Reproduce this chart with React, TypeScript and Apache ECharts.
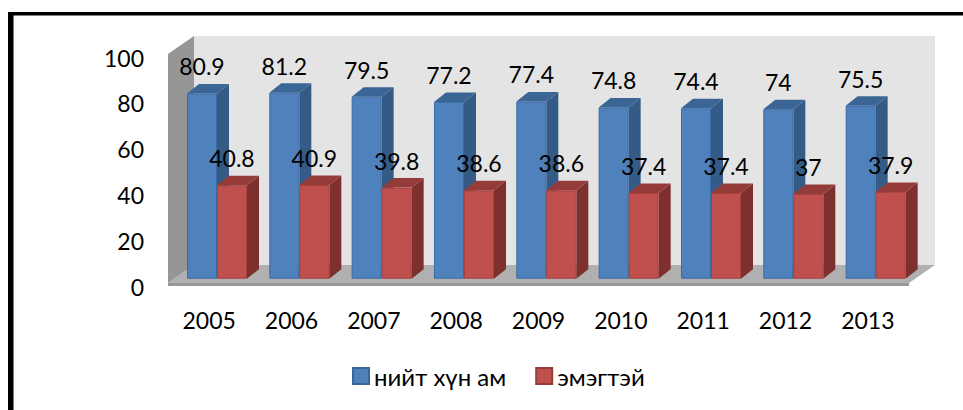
import React, { useEffect, useRef } from "react";
import * as echarts from "echarts";

const years = ["2005", "2006", "2007", "2008", "2009", "2010", "2011", "2012", "2013"];
const totalPop = [80.9, 81.2, 79.5, 77.2, 77.4, 74.8, 74.4, 74, 75.5];
const female = [40.8, 40.9, 39.8, 38.6, 38.6, 37.4, 37.4, 37, 37.9];
const totalName = "нийт хүн ам";
const femaleName = "эмэгтэй";
const yTicks = [0, 20, 40, 60, 80, 100];

const FONT = "Lato, Carlito, 'Noto Sans', sans-serif";
const W = 963;
const H = 410;

const bar3D = (front: string, top: string, side: string, edge: string, slot: number) =>
  (params: any, api: any) => {
    const i = api.value(0);
    const v = api.value(1);
    const band = api.size([1, 0])[0];
    const w = band * 0.3645;
    const c = api.coord([i, v]);
    const base = api.coord([i, 0]);
    const dx = 12;
    const dy = 9.5;
    const x = c[0] + band * 0.095 + (slot - 1) * w;
    const yTop = c[1] - 4.3;
    const yBase = base[1] - 4.3;
    return {
      type: "group",
      children: [
        {
          type: "polygon",
          shape: { points: [[x + w, yTop], [x + w + dx, yTop - dy], [x + w + dx, yBase - dy], [x + w, yBase]] },
          style: { fill: side },
        },
        {
          type: "polygon",
          shape: { points: [[x, yTop], [x + dx, yTop - dy], [x + w + dx, yTop - dy], [x + w, yTop]] },
          style: { fill: top },
        },
        {
          type: "rect",
          shape: { x: x + 0.5, y: yTop + 0.5, width: w - 1, height: yBase - yTop - 1 },
          style: { fill: front, stroke: edge, lineWidth: 1 },
        },
        {
          type: "text",
          z2: 100,
          style: {
            text: String(v),
            x: x + w / 2,
            y: yTop - 27,
            align: "center",
            verticalAlign: "middle",
            font: `23px ${FONT}`,
            fill: "#000",
          },
        },
      ],
    };
  };

const walls = (params: any) => {
  const g = params.coordSys;
  const dx = 26;
  const dy = 18;
  const l = g.x;
  const r = g.x + g.width;
  const t = g.y;
  const b = g.y + g.height;
  return {
    type: "group",
    children: [
      {
        type: "polygon",
        shape: { points: [[l + dx, t - dy], [r + dx, t - dy], [r + dx, b - dy], [l + dx, b - dy]] },
        style: { fill: "#e4e4e4" },
      },
      {
        type: "polygon",
        shape: { points: [[l, b], [l + dx, b - dy], [r + dx, b - dy], [r, b]] },
        style: { fill: "#b0b0b0" },
      },
      {
        type: "polygon",
        shape: { points: [[l, t], [l + dx, t - dy], [l + dx, b - dy], [l, b]] },
        style: { fill: "#969696" },
      },
      {
        type: "rect",
        shape: { x: l, y: b, width: r - l, height: 3 },
        style: { fill: "#989898" },
      },
    ],
  };
};

export default function App() {
  const ref = useRef<HTMLDivElement>(null);
  useEffect(() => {
    document.body.style.margin = "0";
    const chart = echarts.init(ref.current!, null, { renderer: "svg" });
    chart.setOption({
      animation: false,
      backgroundColor: "#fff",
      grid: { left: 168, top: 54, width: 741, height: 229, containLabel: false },
      legend: {
        data: [totalName, femaleName],
        left: 352,
        top: 364,
        padding: 0,
        itemWidth: 16,
        itemHeight: 16,
        itemGap: 29,
        icon: "rect",
        textStyle: { fontFamily: FONT, fontSize: 24, color: "#000" },
      },
      xAxis: {
        type: "category",
        data: years,
        axisLine: { show: false },
        axisTick: { show: false },
        axisLabel: { fontFamily: FONT, fontSize: 23, color: "#000", margin: 25, interval: 0 },
      },
      yAxis: {
        type: "value",
        min: yTicks[0],
        max: yTicks[yTicks.length - 1],
        interval: yTicks[1] - yTicks[0],
        splitLine: { show: false },
        axisLine: { show: false },
        axisTick: { show: false },
        axisLabel: { fontFamily: FONT, fontSize: 23, color: "#000", margin: 24, verticalAlign: "top", lineHeight: 7 },
      },
      series: [
        {
          type: "custom",
          name: "walls",
          silent: true,
          z: 1,
          clip: false,
          data: [[0, 0]],
          renderItem: walls,
        },
        {
          type: "custom",
          name: totalName,
          z: 2,
          clip: false,
          itemStyle: { color: "#4f81bd", borderColor: "#3c6696", borderWidth: 1 },
          data: totalPop.map((v, i) => [i, v]),
          encode: { x: 0, y: 1 },
          renderItem: bar3D("#4f81bd", "#3b6594", "#345a86", "#3a6ba5", 0),
        },
        {
          type: "custom",
          name: femaleName,
          z: 3,
          clip: false,
          itemStyle: { color: "#c0504d", borderColor: "#963c3a", borderWidth: 1 },
          data: female.map((v, i) => [i, v]),
          encode: { x: 0, y: 1 },
          renderItem: bar3D("#c0504d", "#953c3a", "#7e302e", "#a5403d", 1),
        },
      ],
      graphic: [
        { type: "rect", shape: { x: 8, y: 12, width: W - 8, height: 3.5 }, style: { fill: "#000" } },
        { type: "rect", shape: { x: 8, y: 12, width: 5.5, height: H - 12 }, style: { fill: "#000" } },
      ],
    });
    return () => chart.dispose();
  }, []);
  return <div ref={ref} style={{ width: W, height: H }} />;
}
